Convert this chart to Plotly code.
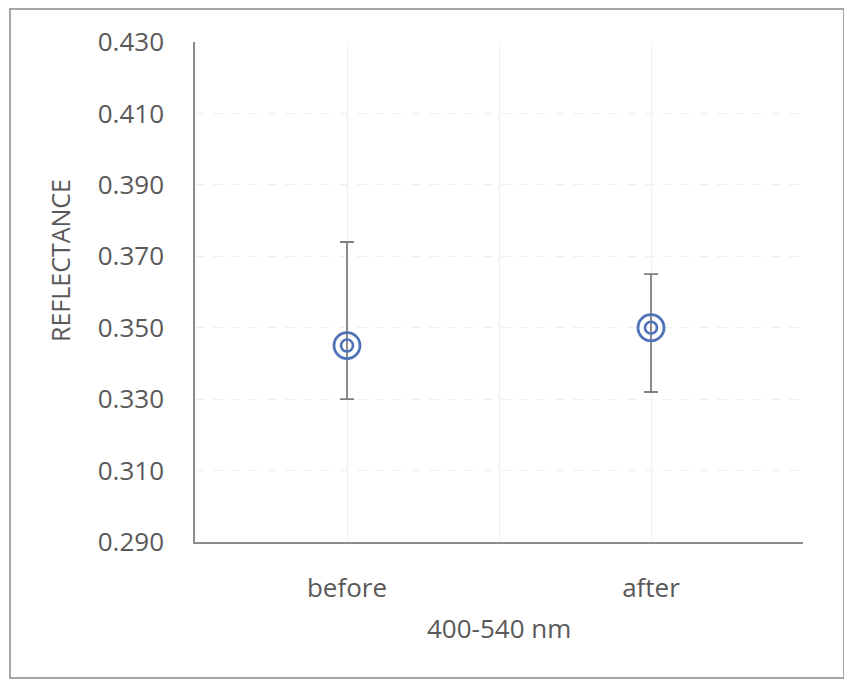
import plotly.graph_objects as go

categories = ["before", "after"]
reflectance = [0.345, 0.350]
err_plus = [0.029, 0.015]
err_minus = [0.015, 0.018]
y_ticks = [0.290, 0.310, 0.330, 0.350, 0.370, 0.390, 0.410, 0.430]

x_pos = [i + 1 for i in range(len(categories))]
blue = "#4f72b8"
text_col = "#595959"
font_fam = "Open Sans, DejaVu Sans, sans-serif"

fig = go.Figure()
fig.add_trace(go.Scatter(
    x=x_pos, y=reflectance, mode="markers",
    marker=dict(symbol="circle-open", size=26, color=blue, line=dict(width=2.8, color=blue)),
    error_y=dict(type="data", symmetric=False, array=err_plus, arrayminus=err_minus,
                 color="#7f7f7f", thickness=1.8, width=7),
    showlegend=False, hoverinfo="skip",
))
fig.add_trace(go.Scatter(
    x=x_pos, y=reflectance, mode="markers",
    marker=dict(symbol="circle-open", size=12, color=blue, line=dict(width=2.6, color=blue)),
    showlegend=False, hoverinfo="skip",
))

tickvals = []
ticktext = []
for i, c in enumerate(categories):
    tickvals.append(x_pos[i])
    ticktext.append(c)
    if i < len(categories) - 1:
        tickvals.append(x_pos[i] + 0.5)
        ticktext.append("")

L, T, PW, PH = 187, 34, 608, 500
W, H = 844, 682

fig.update_layout(
    width=W, height=H,
    margin=dict(l=L, r=W - L - PW, t=T, b=H - T - PH),
    paper_bgcolor="white", plot_bgcolor="white",
    font=dict(family=font_fam, color=text_col, size=26),
    xaxis=dict(range=[0.5, len(categories) + 0.5], tickvals=tickvals, ticktext=ticktext,
               showgrid=True, gridcolor="#efefef", gridwidth=1,
               showline=True, linecolor="#8c8c8c", linewidth=1.6,
               ticks="", zeroline=False, ticklabelstandoff=22,
               tickfont=dict(size=26, color=text_col)),
    yaxis=dict(range=[0.29, 0.43], tickvals=y_ticks, tickformat=".3f",
               showgrid=True, gridcolor="#efefef", gridwidth=1, griddash="dash",
               showline=True, linecolor="#8c8c8c", linewidth=1.6,
               ticks="", zeroline=False, ticklabelstandoff=24,
               tickfont=dict(size=26, color=text_col)),
    annotations=[
        dict(text="REFLECTANCE", xref="paper", yref="paper",
             x=(60 - 8 - L) / PW, y=(T + PH - (261 - 8)) / PH,
             textangle=-90, showarrow=False, font=dict(size=25, color=text_col),
             xanchor="center", yanchor="middle"),
        dict(text="400-540 nm", xref="paper", yref="paper",
             x=0.5, y=(T + PH - (628 - 8)) / PH,
             showarrow=False, font=dict(size=26, color=text_col),
             xanchor="center", yanchor="middle"),
    ],
    shapes=[
        dict(type="rect", xref="paper", yref="paper",
             x0=(2 - L) / PW, x1=(836 - L) / PW,
             y0=(T + PH - 670) / PH, y1=(T + PH - 1) / PH,
             line=dict(color="#8a8a8a", width=1.5), fillcolor="rgba(0,0,0,0)", layer="below"),
    ],
)

fig.write_html("out.html")
